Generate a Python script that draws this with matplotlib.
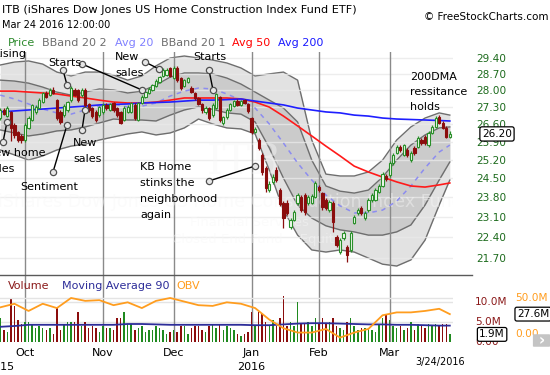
import numpy as np
import pandas as pd
import matplotlib
matplotlib.use("Agg")
import matplotlib.pyplot as plt
import matplotlib.transforms as mtransforms
from matplotlib.lines import Line2D
from matplotlib.patches import FancyBboxPatch
from matplotlib.ticker import FixedLocator, FixedFormatter, NullLocator, NullFormatter

# trading days shown (NYSE holidays removed)
holidays = ["2015-11-26", "2015-12-25", "2016-01-01", "2016-01-18", "2016-02-15"]
dates = pd.bdate_range("2015-09-22", "2016-03-24", freq="C", holidays=holidays)

opens = [26.84, 27.17, 26.92, 27.09, 26.56, 26.28, 26.12, 25.96, 26.44, 26.76,
         27.09, 27.25, 27.50, 27.88, 27.79, 28.01, 27.58, 27.09, 26.96, 27.17,
         27.58, 28.01, 28.01, 27.79, 28.01, 27.42, 27.25, 27.09, 26.96, 27.09,
         27.38, 27.17, 27.46, 27.25, 27.09, 26.76, 27.09, 27.09, 27.38, 26.76,
         27.46, 27.71, 27.88, 28.01, 28.18, 28.35, 28.61, 28.65, 28.94, 28.52,
         28.98, 28.52, 28.18, 28.35, 28.09, 27.88, 27.67, 27.42, 27.09, 27.25,
         26.96, 27.25, 27.71, 26.64, 26.88, 27.17, 27.33, 27.54, 27.38, 27.58,
         27.42, 26.84, 26.28, 25.96, 25.38, 24.88, 24.06, 24.36, 24.80, 24.06,
         23.59, 23.59, 22.75, 22.99, 23.59, 23.81, 23.88, 23.59, 23.59, 23.81,
         24.17, 23.95, 23.70, 23.34, 23.59, 22.41, 21.90, 22.37, 22.07, 21.97,
         22.89, 23.24, 23.42, 23.06, 23.34, 23.70, 23.70, 23.99, 24.21, 24.58,
         24.62, 25.07, 25.45, 25.69, 25.38, 25.57, 25.18, 25.65, 25.69, 25.96,
         26.08, 25.76, 26.24, 26.48, 26.88, 26.64, 26.44, 26.08]
highs = [27.25, 27.24, 27.33, 27.13, 26.62, 26.33, 26.20, 26.62, 26.92, 27.42,
         27.36, 27.66, 27.94, 27.98, 28.10, 28.12, 27.62, 27.15, 27.40, 27.56,
         28.18, 28.10, 28.06, 28.09, 28.08, 27.48, 27.30, 27.15, 27.35, 27.44,
         27.46, 27.48, 27.52, 27.30, 27.14, 27.32, 27.36, 27.52, 27.44, 27.52,
         27.78, 28.00, 28.12, 28.28, 28.46, 28.62, 28.94, 28.96, 29.02, 29.06,
         29.04, 28.58, 28.50, 28.58, 28.16, 27.94, 27.72, 27.48, 27.32, 27.30,
         27.44, 27.90, 27.76, 26.94, 27.24, 27.48, 27.60, 27.62, 27.60, 27.64,
         27.48, 26.90, 26.48, 26.02, 25.44, 24.94, 24.40, 24.66, 24.90, 24.12,
         23.66, 23.70, 23.06, 23.34, 23.96, 23.88, 23.95, 23.88, 23.92, 24.40,
         24.24, 24.00, 23.78, 23.70, 23.66, 22.48, 22.36, 22.62, 22.12, 22.60,
         23.16, 23.40, 23.48, 23.30, 23.76, 23.94, 24.12, 24.28, 24.72, 24.64,
         25.14, 25.45, 25.76, 25.78, 25.82, 25.64, 25.52, 25.72, 26.10, 26.02,
         26.14, 26.30, 26.54, 26.92, 26.96, 26.70, 26.50, 26.30]
lows = [26.78, 26.95, 26.88, 25.94, 26.05, 25.88, 25.84, 25.90, 26.40, 26.70,
        27.00, 27.20, 27.44, 27.66, 27.74, 27.83, 26.78, 26.60, 26.90, 27.10,
        27.52, 27.74, 27.50, 27.72, 27.30, 27.10, 26.86, 26.68, 26.90, 27.02,
        27.18, 27.12, 27.10, 26.88, 26.58, 26.70, 27.04, 27.04, 26.78, 26.70,
        27.40, 27.66, 27.82, 27.96, 28.12, 28.30, 28.55, 28.60, 28.55, 28.46,
        28.36, 28.00, 28.12, 28.30, 27.86, 27.60, 27.36, 27.05, 27.02, 26.78,
        26.90, 27.20, 26.68, 26.56, 26.82, 27.12, 27.28, 27.32, 27.32, 27.40,
        27.06, 26.20, 26.22, 25.58, 24.62, 24.00, 23.98, 24.30, 24.36, 23.48,
        22.70, 23.16, 22.68, 22.94, 23.52, 23.26, 23.18, 23.52, 23.54, 23.76,
        23.98, 23.36, 23.34, 23.28, 22.56, 22.06, 21.84, 22.30, 21.57, 21.90,
        22.84, 23.18, 23.18, 23.00, 23.28, 23.64, 23.66, 23.94, 24.16, 24.40,
        24.56, 25.00, 25.40, 25.50, 25.32, 25.30, 25.12, 25.38, 25.64, 25.78,
        25.76, 25.70, 26.18, 26.42, 26.58, 26.38, 26.02, 26.02]
closes = [27.17, 27.00, 27.25, 26.44, 26.16, 25.96, 25.96, 26.56, 26.84, 27.38,
          27.29, 27.58, 27.88, 27.71, 28.01, 27.88, 26.84, 26.68, 27.33, 27.50,
          28.09, 27.79, 27.58, 28.01, 27.38, 27.17, 26.92, 26.76, 27.29, 27.38,
          27.25, 27.42, 27.17, 26.96, 26.64, 27.25, 27.29, 27.46, 26.84, 27.46,
          27.71, 27.92, 28.05, 28.22, 28.39, 28.56, 28.87, 28.87, 28.61, 28.98,
          28.43, 28.09, 28.43, 28.52, 27.92, 27.67, 27.42, 27.17, 27.25, 26.84,
          27.38, 27.84, 26.76, 26.88, 27.17, 27.42, 27.54, 27.38, 27.54, 27.46,
          27.13, 26.28, 26.40, 25.65, 24.73, 24.14, 24.28, 24.54, 24.43, 23.56,
          23.06, 23.24, 22.99, 23.27, 23.88, 23.34, 23.27, 23.81, 23.85, 24.32,
          24.06, 23.45, 23.42, 23.63, 22.92, 22.14, 22.30, 22.55, 21.80, 22.55,
          23.10, 23.34, 23.24, 23.24, 23.70, 23.88, 24.06, 24.21, 24.65, 24.47,
          25.07, 25.38, 25.69, 25.57, 25.76, 25.38, 25.45, 25.45, 26.04, 25.84,
          25.84, 26.24, 26.48, 26.84, 26.64, 26.44, 26.08, 26.20]
# volume in millions of shares
volumes = [6.0, 3.0, 2.5, 11.0, 9.0, 5.5, 4.5, 5.0, 5.0, 4.5,
           3.5, 4.0, 3.5, 3.0, 3.5, 2.0, 8.5, 3.0, 4.5, 5.0,
           5.0, 5.0, 7.5, 4.0, 5.0, 3.5, 4.0, 3.5, 2.5, 4.0,
           3.5, 3.5, 3.0, 6.0, 6.0, 7.5, 4.5, 4.5, 3.0, 3.5,
           4.0, 2.5, 3.0, 3.0, 4.0, 3.5, 3.0, 2.0, 2.5, 3.0,
           2.5, 4.0, 4.0, 2.0, 3.5, 4.0, 4.0, 3.0, 2.5, 4.0,
           4.5, 3.5, 4.5, 3.0, 4.0, 3.5, 3.0, 2.0, 1.5, 2.0,
           2.5, 7.5, 4.0, 7.5, 7.0, 5.0, 4.0, 5.5, 4.0, 6.0,
           11.5, 4.0, 5.0, 4.0, 10.0, 4.5, 4.5, 5.0, 4.0, 6.0,
           4.5, 6.0, 4.5, 5.0, 6.0, 4.0, 3.5, 3.0, 5.0, 6.0,
           4.0, 3.0, 3.5, 3.5, 3.5, 3.0, 2.5, 4.5, 6.0, 7.0,
           5.5, 4.0, 3.5, 4.0, 3.0, 3.5, 5.0, 3.0, 4.5, 4.0,
           3.5, 4.5, 4.0, 4.5, 4.0, 4.5, 4.5, 1.9]

# indicator readings, every 4th trading day plus the last one
ind_idx = list(range(0, 128, 4)) + [127]
avg20 = [27.79, 27.63, 27.42, 27.21, 27.05, 27.00, 27.17, 27.33, 27.42, 27.29, 27.33,
         27.46, 27.75, 27.96, 28.09, 28.05, 27.84, 27.58, 27.25, 26.60, 25.84, 25.07,
         24.43, 23.88, 23.49, 23.24, 23.24, 23.34, 23.66, 24.21, 24.88, 25.49, 25.76]
bb2_up = [29.09, 29.22, 29.27, 29.13, 28.78, 28.61, 28.78, 28.78, 28.65, 28.43, 28.61,
          29.05, 29.40, 29.49, 29.40, 29.31, 29.18, 28.96, 28.61, 28.70, 28.78, 28.43,
          25.96, 24.65, 24.58, 24.58, 24.73, 25.18, 25.96, 26.48, 26.84, 27.05, 26.96]
bb1_up = [28.43, 28.39, 28.30, 28.13, 27.92, 27.79, 27.92, 28.05, 28.01, 27.88, 27.96,
          28.22, 28.56, 28.74, 28.74, 28.70, 28.52, 28.26, 27.92, 27.58, 27.25, 26.68,
          25.18, 24.21, 24.02, 23.95, 24.06, 24.54, 25.18, 25.76, 26.16, 26.44, 26.48]
bb1_lo = [26.36, 26.24, 26.12, 26.20, 26.32, 26.36, 26.48, 26.64, 26.80, 26.76, 26.76,
          26.72, 26.96, 27.17, 27.30, 27.20, 27.05, 27.00, 26.68, 25.65, 24.50, 23.52,
          23.06, 22.79, 22.65, 22.58, 22.47, 22.47, 22.58, 22.82, 23.52, 24.43, 25.11]
bb2_lo = [25.57, 25.38, 25.18, 25.34, 25.57, 25.72, 25.80, 25.96, 26.08, 26.20, 26.28,
          26.16, 26.24, 26.44, 26.80, 26.60, 26.44, 26.40, 26.20, 24.80, 23.34, 22.47,
          21.97, 21.90, 21.97, 21.90, 21.70, 21.50, 21.44, 21.64, 22.30, 23.52, 24.43]
avg50 = [27.96, 27.96, 27.92, 27.88, 27.84, 27.75, 27.67, 27.58, 27.50, 27.46, 27.46,
         27.50, 27.58, 27.67, 27.67, 27.67, 27.67, 27.63, 27.50, 27.29, 26.92, 26.52,
         26.12, 25.72, 25.34, 24.95, 24.73, 24.54, 24.36, 24.21, 24.17, 24.25, 24.32]
avg200 = [27.09, 27.13, 27.17, 27.21, 27.25, 27.29, 27.33, 27.38, 27.40, 27.42, 27.46,
          27.48, 27.50, 27.54, 27.58, 27.58, 27.60, 27.63, 27.54, 27.46, 27.38, 27.25,
          27.17, 27.09, 27.05, 26.96, 26.92, 26.84, 26.80, 26.78, 26.76, 26.74, 26.72]
vol_ma90 = [3.8, 4.0, 4.3, 4.3, 4.3, 4.3, 4.3, 4.3, 4.3, 4.5, 4.5, 4.4, 4.3, 4.3, 4.3,
            4.3, 4.3, 4.3, 4.2, 4.2, 4.4, 4.6, 4.7, 4.7, 4.6, 4.5, 4.4, 4.4, 4.3, 4.3,
            4.2, 4.1, 4.1]
obv = [37, 42, 32, 42, 36, 50, 46, 47, 40, 44, 36, 46, 50, 45, 40, 39, 44, 42, 36, 20,
       8, 2, 2, 7, -5, 2, 7, 26, 30, 30, 32, 35, 27.6]

price_ticks = [29.40, 28.70, 28.00, 27.30, 26.60, 25.90, 25.20, 24.50, 23.80, 23.10, 22.40, 21.70]

W, H = 550, 375


def fx(px):
    return px / W


def fy(py):
    return 1 - py / H


fig = plt.figure(figsize=(5.5, 3.75), dpi=100)
fig.patch.set_facecolor("white")
ax = fig.add_axes([0, fy(275), fx(453), fy(52) - fy(275)])
axv = fig.add_axes([0, fy(342), fx(453), fy(275) - fy(342)])

x = np.arange(len(dates))
o = np.array(opens)
c = np.array(closes)
up = c >= o
GREEN = "#2a8f2a"
RED = "#8b0d0d"

# --- price panel ---
ax.set_yscale("log")
ax.set_ylim(21.15, 29.67)
ax.set_xlim(-0.07, 127.9)

ax.fill_between(ind_idx, bb2_lo, bb2_up, color="#e2e2e2", lw=0, zorder=1)
ax.fill_between(ind_idx, bb1_lo, bb1_up, color="#cbcbcb", lw=0, zorder=1.5)
for band in (bb2_up, bb1_up, bb1_lo, bb2_lo):
    ax.plot(ind_idx, band, color="#6e6e6e", lw=1.0, zorder=2)

month_starts = [i for i in range(1, len(dates)) if dates[i].month != dates[i - 1].month]
for m in month_starts:
    ax.axvline(m, color="#8a8a8a", lw=1.0, zorder=2.5)
    axv.axvline(m, color="#8a8a8a", lw=1.0, zorder=0.5)
for t in price_ticks:
    ax.axhline(t, color="#e9e9e9", lw=1.0, alpha=0.8, zorder=2.2)

ax.plot(ind_idx, avg20, color="#8c8cf0", lw=1.1, ls=(0, (3, 3)), zorder=3)
ax.plot(ind_idx, avg50, color="#ff1a1a", lw=1.2, zorder=3.2)
ax.plot(ind_idx, avg200, color="#1f1fff", lw=1.2, zorder=3.2)

ax.vlines(x, lows, highs, colors=np.where(up, GREEN, RED), lw=0.9, zorder=5)
ax.bar(x, np.abs(c - o), bottom=np.minimum(o, c), width=0.64,
       color=np.where(up, "#f4fbf0", RED), edgecolor=np.where(up, GREEN, RED),
       lw=0.8, zorder=6)

ax.yaxis.set_major_locator(FixedLocator(price_ticks))
ax.yaxis.set_major_formatter(FixedFormatter(["%.2f" % t for t in price_ticks]))
ax.yaxis.set_minor_locator(NullLocator())
ax.yaxis.set_minor_formatter(NullFormatter())
ax.yaxis.tick_right()
ax.tick_params(axis="y", length=0, pad=16.5, labelsize=7.6, labelcolor="#1d6b1d")
ax.set_xticks([])
for s in ax.spines.values():
    s.set_visible(False)

bt = mtransforms.blended_transform_factory(ax.transAxes, ax.transData)
ax.text(1.064, closes[-1], "%.2f" % closes[-1], transform=bt, ha="left", va="center",
        fontsize=7.6, clip_on=False, zorder=10,
        bbox=dict(boxstyle="round,pad=0.2", fc="white", ec="black", lw=0.9))

# --- volume panel ---
axv.set_xlim(-0.07, 127.9)
axv.set_ylim(0, 16.75)
vcol = np.where(up, "#1f8a1f", RED)
axv.bar(x, volumes, width=0.42, color=vcol, zorder=2)
axv.plot(ind_idx, vol_ma90, color="#2d2d99", lw=1.3, zorder=3)
for lvl in (5, 10):
    axv.axhline(lvl, color="#e4e4e4", lw=1.0, zorder=0.3)
axo = axv.twinx()
axo.set_ylim(-11.1, 81.9)
axo.axhline(50, color="#e4e4e4", lw=1.0, zorder=0.3)
axo.plot(ind_idx, obv, color="#ff9d1f", lw=1.3, zorder=4)
for a in (axv, axo):
    a.set_yticks([])
    for s in a.spines.values():
        s.set_visible(False)

axv.set_xticks(month_starts)
axv.set_xticklabels([dates[m].strftime("%b") for m in month_starts])
axv.tick_params(axis="x", length=0, pad=4, labelsize=8)
vt = mtransforms.blended_transform_factory(axv.transData, axv.transAxes)
year_pos = [0] + [m for m in month_starts if dates[m].month == 1]
for p in year_pos:
    axv.text(p, -0.37, str(dates[p].year), transform=vt, ha="center", va="center",
             fontsize=8, clip_on=False)

tv = mtransforms.blended_transform_factory(axv.transAxes, axv.transData)
for lvl, lab in ((10, "10.0M"), (5, "5.0M"), (0, "0.00")):
    axv.text(1.0486, lvl, lab, transform=tv, ha="left", va="center", fontsize=7.6,
             color="#8b1a1a", clip_on=False)
axv.text(1.058, volumes[-1], "%.1fM" % volumes[-1], transform=tv, ha="left", va="center",
         fontsize=7.6, clip_on=False, zorder=10,
         bbox=dict(boxstyle="round,pad=0.18", fc="white", ec="black", lw=0.9))
to = mtransforms.blended_transform_factory(axo.transAxes, axo.transData)
for lvl, lab in ((50, "50.0M"), (0, "0.00")):
    axo.text(1.137, lvl, lab, transform=to, ha="left", va="center", fontsize=7.6,
             color="#ff9d1f", clip_on=False)
axo.text(1.141, obv[-1], "%.1fM" % obv[-1], transform=to, ha="left", va="center",
         fontsize=7.6, clip_on=False, zorder=10,
         bbox=dict(boxstyle="round,pad=0.18", fc="white", ec="black", lw=0.9))

fig.add_artist(Line2D([0, fx(472)], [fy(275), fy(275)], color="#5a5a5a", lw=1.0))
fig.add_artist(FancyBboxPatch((fx(534), fy(346)), fx(15), fy(335) - fy(346),
                              boxstyle="round,pad=0.002", fc="#c4c4c4", ec="none"))
fig.text(fx(541.5), fy(340.5), "›", ha="center", va="center", fontsize=11,
         color="white", fontweight="bold")

# --- texts ---
fig.text(fx(2), fy(10), "ITB (iShares Dow Jones US Home Construction Index Fund ETF)",
         fontsize=8.1, va="center")
fig.text(fx(2), fy(25), "Mar 24 2016 12:00:00", fontsize=7, va="center")
fig.text(fx(548), fy(17), "© FreeStockCharts.com", fontsize=7.5, va="center", ha="right")
fig.text(fx(415), fy(362), "3/24/2016", fontsize=7, va="center")

legend = [(8, "Price", "#2e8b2e"), (42, "BBand 20 2", "#6e6e6e"), (115, "Avg 20", "#8080ff"),
          (161, "BBand 20 1", "#6e6e6e"), (232, "Avg 50", "#ff0000"), (278, "Avg 200", "#1a1aff")]
for px, lab, col in legend:
    fig.text(fx(px), fy(43), lab, fontsize=8, color=col, va="center")
vleg = [(8, "Volume", "#8b1a1a"), (62, "Moving Average 90", "#2d2d99"), (176, "OBV", "#ff9d1f")]
for px, lab, col in vleg:
    fig.text(fx(px), fy(286), lab, fontsize=8, color=col, va="center")

# faint watermark
wm = dict(color="#f7f7f7", alpha=0.45, zorder=2.8)
ax.text(fx(207) / fx(453), (fy(162) - fy(275)) / (fy(52) - fy(275)), "ITB",
        transform=ax.transAxes, fontsize=30, family="DejaVu Serif", va="center", **wm)
ax.text(-0.005, (fy(202) - fy(275)) / (fy(52) - fy(275)),
        "iShares Dow Jones US Home Construction Index Fund",
        transform=ax.transAxes, fontsize=12.5, va="center", clip_on=True, **wm)
ax.text(fx(190) / fx(453), (fy(223) - fy(275)) / (fy(52) - fy(275)), "Financial Services",
        transform=ax.transAxes, fontsize=9.5, va="center", **wm)
ax.text(fx(172) / fx(453), (fy(239) - fy(275)) / (fy(52) - fy(275)),
        "Closed End Fund    Equity", transform=ax.transAxes, fontsize=9.5, va="center", **wm)

# annotations
notes = [(-7, [54], ["Rising"]),
         (48, [63], ["Starts"]),
         (115, [57, 73], ["New", "sales"]),
         (193, [57], ["Starts"]),
         (-14, [153, 169], ["New home", "sales"]),
         (20, [187], ["Sentiment"]),
         (73, [143, 159], ["New", "sales"]),
         (140, [167, 183, 199, 215], ["KB Home", "stinks the", "neighborhood", "again"]),
         (410, [77, 92, 107], ["200DMA", "ressitance", "holds"])]
for px, ys, lines in notes:
    for py, t in zip(ys, lines):
        fig.text(fx(px), fy(py), t, fontsize=8, va="center", zorder=20)

pointers = [((63, 70), (67, 85)), ((82, 64), (142, 90)), ((145, 62), (159, 69)),
            ((209, 70), (213, 90)), ((3, 142), (7, 122)), ((53, 172), (67, 125)),
            ((82, 130), (85, 110)), ((209, 181), (255, 166))]
for (x0, y0), (x1, y1) in pointers:
    fig.add_artist(Line2D([fx(x0), fx(x1)], [fy(y0), fy(y1)], color="black", lw=1.0,
                          marker="o", markersize=4.5, mfc="#e6e6e6", mec="#505050",
                          mew=0.9, zorder=20))

fig.savefig("out.png", dpi=100)
